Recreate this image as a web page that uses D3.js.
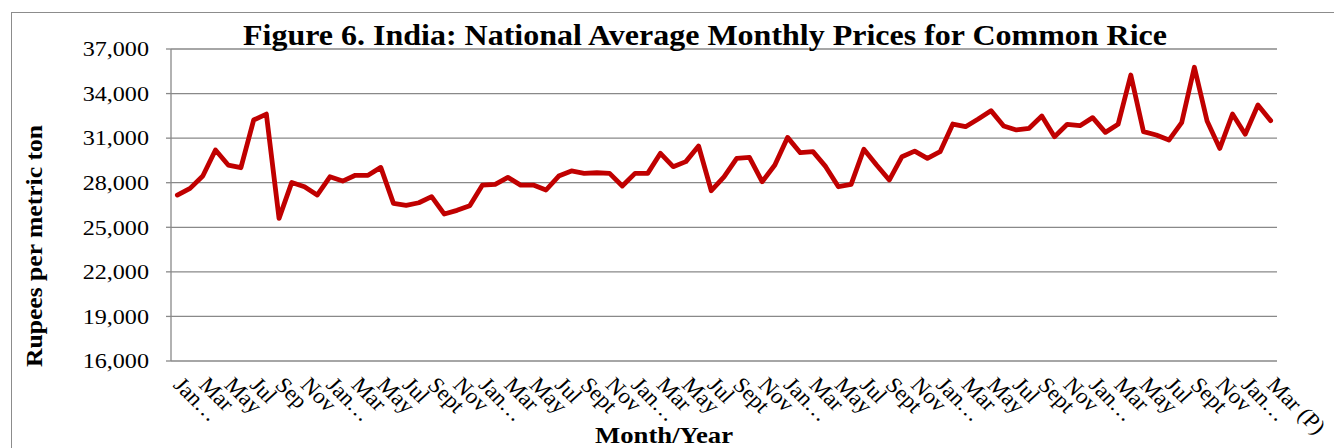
<!DOCTYPE html>
<html lang="en">
<head>
  <meta charset="UTF-8">
  <title>Figure 6. India: National Average Monthly Prices for Common Rice</title>
  <script src="https://d3js.org/d3.v7.min.js"></script>
  <style>
    body { margin: 0; background: #fff; }
    svg { display: block; font-family: "Liberation Serif", "Times New Roman", serif; }
  </style>
</head>
<body>
  <svg width="1334" height="448"></svg>

  <script>
    // monthly prices, Rupees per metric ton
    const prices = [
      27170, 27620, 28450, 30200, 29190, 29010, 32220, 32620, 25600, 28020, 27730, 27170,
      28400, 28110, 28500, 28500, 29030, 26610, 26480, 26650, 27060, 25890, 26140, 26450,
      27840, 27890, 28360, 27840, 27840, 27510, 28450, 28790, 28630, 28670, 28630, 27780,
      28630, 28630, 29980, 29080, 29420, 30470, 27460, 28400, 29640, 29700, 28070, 29190,
      31050, 30020, 30090, 29080, 27730, 27890, 30250, 29190, 28180, 29750, 30130, 29640,
      30090, 31950, 31770, 32290, 32850, 31820, 31550, 31660, 32490, 31100, 31930, 31840,
      32380, 31390, 31930, 35250, 31435, 31210, 30870, 32040, 35770, 32150, 30310, 32620,
      31260, 33230, 32180
    ];

    const monthNames = ["Jan", "Feb", "Mar", "Apr", "May", "Jun", "Jul", "Aug", "Sep", "Oct", "Nov", "Dec"];
    const categories = prices.map((_, i) => monthNames[i % 12]);

    // labels shown on every second month
    const tickLabels = [
      "Jan…", "Mar", "May", "Jul", "Sep", "Nov",
      "Jan…", "Mar", "May", "Jul", "Sept", "Nov",
      "Jan…", "Mar", "May", "Jul", "Sept", "Nov",
      "Jan…", "Mar", "May", "Jul", "Sept", "Nov",
      "Jan…", "Mar", "May", "Jul", "Sept", "Nov",
      "Jan…", "Mar", "May", "Jul", "Sept", "Nov",
      "Jan…", "Mar", "May", "Jul", "Sept", "Nov",
      "Jan…", "Mar (P)"
    ];

    const yTicks = [16000, 19000, 22000, 25000, 28000, 31000, 34000, 37000];

    const svg = d3.select("svg");
    const plotLeft = 171, plotRight = 1277, plotTop = 49, plotBottom = 361;
    const sx = 1.15; // text in the source is slightly wide
    const gridColor = "#898989";

    // outer chart border
    svg.append("rect")
      .attr("x", 11.5).attr("y", 12.5)
      .attr("width", 1400).attr("height", 500)
      .attr("fill", "none")
      .attr("stroke", "#8c8c8c")
      .attr("stroke-width", 1);

    const x = d3.scalePoint()
      .domain(d3.range(categories.length))
      .range([plotLeft, plotRight])
      .padding(0.5);

    const y = d3.scaleLinear()
      .domain([16000, 37000])
      .range([plotBottom, plotTop]);

    // gridlines
    svg.append("g")
      .selectAll("line")
      .data(yTicks)
      .join("line")
      .attr("x1", plotLeft).attr("x2", plotRight)
      .attr("y1", d => y(d)).attr("y2", d => y(d))
      .attr("stroke", gridColor)
      .attr("stroke-width", 1.3);

    // y axis line + ticks
    svg.append("line")
      .attr("x1", plotLeft).attr("x2", plotLeft)
      .attr("y1", plotTop).attr("y2", plotBottom)
      .attr("stroke", gridColor)
      .attr("stroke-width", 1.3);

    svg.append("g")
      .selectAll("line")
      .data(yTicks)
      .join("line")
      .attr("x1", plotLeft - 5).attr("x2", plotLeft)
      .attr("y1", d => y(d)).attr("y2", d => y(d))
      .attr("stroke", gridColor)
      .attr("stroke-width", 1.3);

    // y tick labels
    svg.append("g")
      .selectAll("text")
      .data(yTicks)
      .join("text")
      .attr("transform", d => `translate(149,${y(d)}) scale(${sx},1)`)
      .attr("dy", "0.35em")
      .attr("text-anchor", "end")
      .attr("font-size", "21px")
      .text(d => d3.format(",")(d));

    // x tick labels (every other month), rotated
    svg.append("g")
      .selectAll("text")
      .data(tickLabels)
      .join("text")
      .attr("transform", (d, i) => `translate(${x(i * 2) - 5},386) scale(1.05,1) rotate(46)`)
      .attr("text-anchor", "start")
      .attr("font-size", "22px")
      .text(d => d);

    // price line
    const line = d3.line()
      .x((d, i) => x(i))
      .y(d => y(d));

    svg.append("path")
      .datum(prices)
      .attr("d", line)
      .attr("fill", "none")
      .attr("stroke", "#c00000")
      .attr("stroke-width", 4.8)
      .attr("stroke-linejoin", "round")
      .attr("stroke-linecap", "round");

    // title
    svg.append("text")
      .attr("x", 705).attr("y", 45)
      .attr("text-anchor", "middle")
      .attr("font-size", "30px")
      .attr("font-weight", "bold")
      .attr("textLength", 924)
      .attr("lengthAdjust", "spacingAndGlyphs")
      .text("Figure 6. India: National Average Monthly Prices for Common Rice");

    // axis titles
    svg.append("text")
      .attr("x", 664).attr("y", 443)
      .attr("text-anchor", "middle")
      .attr("font-size", "22.5px")
      .attr("font-weight", "bold")
      .attr("textLength", 138)
      .attr("lengthAdjust", "spacingAndGlyphs")
      .text("Month/Year");

    svg.append("text")
      .attr("transform", "translate(42,246) rotate(-90)")
      .attr("text-anchor", "middle")
      .attr("font-size", "24px")
      .attr("font-weight", "bold")
      .attr("textLength", 242)
      .attr("lengthAdjust", "spacingAndGlyphs")
      .text("Rupees per metric ton");
  </script>
</body>
</html>
